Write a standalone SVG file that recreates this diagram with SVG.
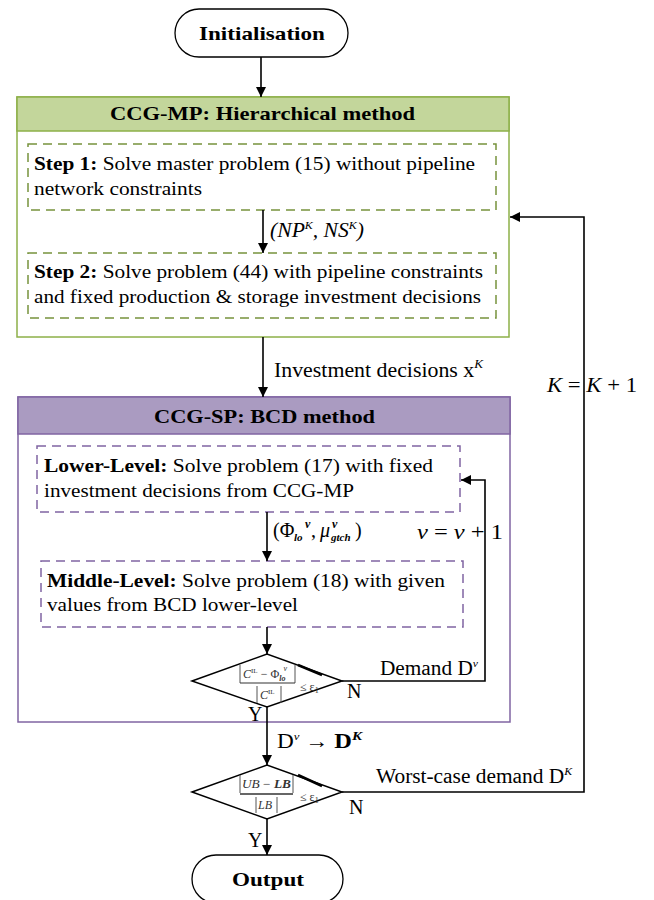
<svg xmlns="http://www.w3.org/2000/svg" width="654" height="900" viewBox="0 0 654 900">
<defs>
<marker id="ah" viewBox="0 0 10 10" refX="10" refY="5" markerWidth="10" markerHeight="10" markerUnits="userSpaceOnUse" orient="auto">
<path d="M0,0 L10,5 L0,10 z" fill="#000"/>
</marker>
<style>
text{font-family:"Liberation Serif","Times New Roman",serif;fill:#000}
.b{font-weight:bold}
.t{font-size:19px}
.l{font-size:20px}
.h{font-size:19px;font-weight:bold}
.term{fill:#fff;stroke:#000;stroke-width:1.3}
.conn{fill:none;stroke:#000;stroke-width:1.6}
.arr{marker-end:url(#ah)}
.gdash{fill:#fff;stroke:#77933c;stroke-width:1.5;stroke-dasharray:9,6}
.pdash{fill:#fff;stroke:#8064a2;stroke-width:1.5;stroke-dasharray:9,6}
.dia{fill:#fff;stroke:#000;stroke-width:1.5}
.sm{font-size:12px;fill:#333}
.ital{font-style:italic}
</style>
</defs>

<g id="initialisation">
<rect class="term" x="175" y="9" width="173" height="48" rx="24"/>
<text class="h" x="199" y="40" textLength="126" lengthAdjust="spacingAndGlyphs">Initialisation</text>
</g>

<g id="ccg-mp">
<rect x="17" y="97" width="492" height="240" fill="#fff" stroke="#8db048" stroke-width="1.5"/>
<rect x="17" y="97" width="492" height="34" fill="#c3d69b" stroke="#8db048" stroke-width="1.5"/>
<text class="h" x="110" y="120" textLength="305" lengthAdjust="spacingAndGlyphs">CCG-MP: Hierarchical method</text>
</g>

<g id="step1">
<rect class="gdash" x="28" y="144" width="468" height="66"/>
<text class="t" x="34" y="170" textLength="441" lengthAdjust="spacingAndGlyphs"><tspan class="b">Step 1:</tspan> Solve master problem (15) without pipeline</text>
<text class="t" x="34" y="195" textLength="168" lengthAdjust="spacingAndGlyphs">network constraints</text>
</g>

<g id="step2">
<rect class="gdash" x="28" y="253" width="468" height="65"/>
<text class="t" x="34" y="278" textLength="449" lengthAdjust="spacingAndGlyphs"><tspan class="b">Step 2:</tspan> Solve problem (44) with pipeline constraints</text>
<text class="t" x="34" y="303" textLength="447" lengthAdjust="spacingAndGlyphs">and fixed production &amp; storage investment decisions</text>
</g>

<g id="ccg-sp">
<rect x="18" y="397" width="492" height="325" fill="#fff" stroke="#8064a2" stroke-width="1.5"/>
<rect x="18" y="397" width="492" height="37" fill="#aa9bc1" stroke="#8064a2" stroke-width="1.5"/>
<text class="h" x="154" y="423" textLength="221" lengthAdjust="spacingAndGlyphs">CCG-SP: BCD method</text>
</g>

<g id="lower-level">
<rect class="pdash" x="37" y="446" width="423" height="66"/>
<text class="t" x="44" y="472" textLength="389" lengthAdjust="spacingAndGlyphs"><tspan class="b">Lower-Level:</tspan> Solve  problem (17) with fixed</text>
<text class="t" x="44" y="497" textLength="310" lengthAdjust="spacingAndGlyphs">investment decisions from CCG-MP</text>
</g>

<g id="middle-level">
<rect class="pdash" x="41" y="561" width="422" height="66"/>
<text class="t" x="47" y="587" textLength="398" lengthAdjust="spacingAndGlyphs"><tspan class="b">Middle-Level:</tspan> Solve  problem (18) with given</text>
<text class="t" x="47" y="611" textLength="251" lengthAdjust="spacingAndGlyphs">values from BCD lower-level</text>
</g>

<g id="check-bcd">
<polygon class="dia" points="192,681 267,654 342,681 267,707"/>
<line x1="298" y1="665" x2="322" y2="675" stroke="#000" stroke-width="2.5"/>
<line x1="240" y1="665" x2="240" y2="683" stroke="#555" stroke-width="1"/>
<line x1="295" y1="665" x2="295" y2="683" stroke="#555" stroke-width="1"/>
<text class="sm" x="243" y="678"><tspan class="ital">C</tspan><tspan font-size="7" dy="-5">IL</tspan><tspan dy="5"> − Φ</tspan><tspan class="ital b" font-size="8" dy="3">lo</tspan><tspan class="ital" font-size="8" dx="-2" dy="-10">v</tspan></text>
<line x1="240" y1="683" x2="295" y2="683" stroke="#333" stroke-width="1.2"/>
<line x1="257" y1="686" x2="257" y2="703" stroke="#555" stroke-width="1"/>
<line x1="281" y1="686" x2="281" y2="703" stroke="#555" stroke-width="1"/>
<text class="sm" x="260" y="699"><tspan class="ital">C</tspan><tspan font-size="7" dy="-5">IL</tspan></text>
<text class="sm" x="300" y="691">≤ ε<tspan font-size="8" dy="2">1</tspan></text>
</g>

<g id="check-ccg">
<polygon class="dia" points="192,792 267,765 342,792 267,819"/>
<line x1="298" y1="775" x2="322" y2="786" stroke="#000" stroke-width="2.5"/>
<line x1="240" y1="775" x2="240" y2="793" stroke="#555" stroke-width="1"/>
<line x1="293" y1="775" x2="293" y2="793" stroke="#555" stroke-width="1"/>
<text class="sm" x="242" y="788" textLength="49" lengthAdjust="spacingAndGlyphs"><tspan class="ital">UB</tspan> − <tspan class="ital b">LB</tspan></text>
<line x1="240" y1="794" x2="293" y2="794" stroke="#333" stroke-width="1.3"/>
<line x1="256" y1="797" x2="256" y2="813" stroke="#555" stroke-width="1"/>
<line x1="277" y1="797" x2="277" y2="813" stroke="#555" stroke-width="1"/>
<text class="sm ital" x="258" y="809">LB</text>
<text class="sm" x="300" y="801">≤ ε<tspan font-size="8" dy="2">1</tspan></text>
</g>

<g id="output">
<rect class="term" x="192" y="855" width="151" height="48" rx="24"/>
<text class="h" x="232" y="886" textLength="72" lengthAdjust="spacingAndGlyphs">Output</text>
</g>

<g id="connectors">
<line class="conn arr" x1="261" y1="57" x2="261" y2="97"/>
<line class="conn arr" x1="263" y1="210" x2="263" y2="253"/>
<line class="conn arr" x1="263" y1="337" x2="263" y2="397"/>
<line class="conn arr" x1="267" y1="512" x2="267" y2="561"/>
<line class="conn arr" x1="267" y1="627" x2="267" y2="654"/>
<polyline class="conn arr" points="342,681 485,681 485,480 461,480"/>
<line class="conn arr" x1="267" y1="707" x2="267" y2="765"/>
<polyline class="conn arr" points="342,792 584,792 584,217 510,217"/>
<line class="conn arr" x1="267" y1="819" x2="267" y2="855"/>
</g>

<g id="labels">
<text class="l ital" x="270" y="237" textLength="94" lengthAdjust="spacingAndGlyphs">(NP<tspan font-size="11" dy="-8">K</tspan><tspan dy="8">, NS</tspan><tspan font-size="11" dy="-8">K</tspan><tspan dy="8">)</tspan></text>
<text class="l" x="274" y="377" textLength="209" lengthAdjust="spacingAndGlyphs">Investment decisions x<tspan class="ital" font-size="12" dy="-9">K</tspan></text>
<text class="l" x="547" y="392" font-size="22" textLength="90" lengthAdjust="spacingAndGlyphs"><tspan class="ital">K</tspan> = <tspan class="ital">K</tspan> + 1</text>
<text class="l" x="273" y="537">(Φ</text>
<text class="ital b" x="294" y="541" font-size="11">lo</text>
<text class="ital b" x="305" y="528" font-size="12">v</text>
<text class="l" x="311" y="537">, </text>
<text class="l ital" x="320" y="537">μ</text>
<text class="ital b" x="331" y="541" font-size="11">gtch</text>
<text class="ital b" x="332" y="528" font-size="12">v</text>
<text class="l" x="355" y="537">)</text>
<text class="l" x="417" y="539" font-size="22" textLength="86" lengthAdjust="spacingAndGlyphs"><tspan class="ital">v</tspan> = <tspan class="ital">v</tspan> + 1</text>
<text class="l" x="380" y="675" textLength="98" lengthAdjust="spacingAndGlyphs">Demand D<tspan class="ital" font-size="11" dy="-8">v</tspan></text>
<text class="l" x="347" y="698">N</text>
<text class="l" x="248" y="721">Y</text>
<text class="l" x="277" y="748" textLength="85" lengthAdjust="spacingAndGlyphs">D<tspan class="ital" font-size="11" dy="-8">v</tspan><tspan dy="8"> → </tspan><tspan class="b" font-size="21">D</tspan><tspan class="b ital" font-size="13" dy="-8">K</tspan></text>
<text class="l" x="376" y="783" textLength="196" lengthAdjust="spacingAndGlyphs">Worst-case demand D<tspan class="ital" font-size="11" dy="-8">K</tspan></text>
<text class="l" x="349" y="814">N</text>
<text class="l" x="248" y="847">Y</text>
</g>
</svg>
